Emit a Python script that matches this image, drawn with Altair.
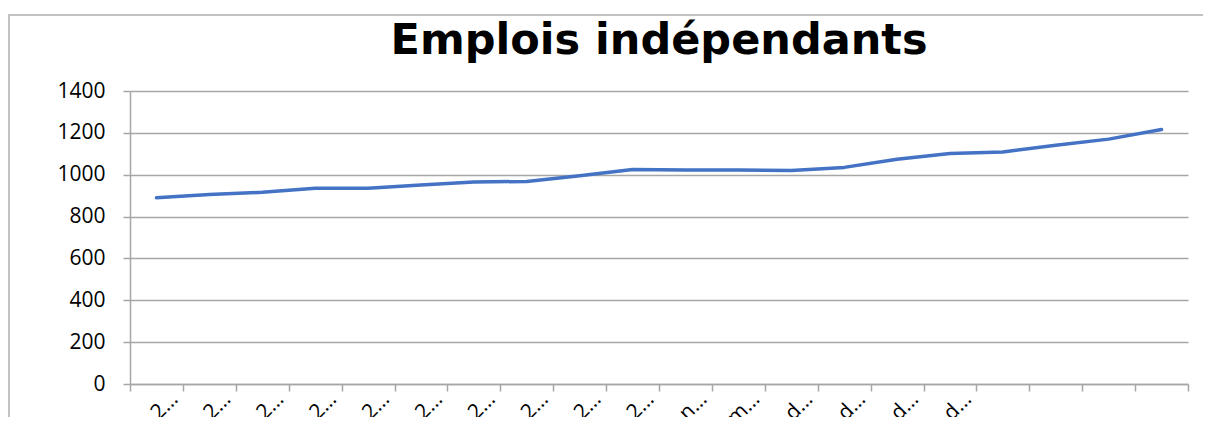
import json
import altair as alt
import pandas as pd

# Data
periods = list(range(1, 21))
tick_labels = ["2…", "2…", "2…", "2…", "2…", "2…", "2…", "2…", "2…", "2…",
               "n…", "m…", "d…", "d…", "d…", "d…", "", "", "", ""]
values = [890, 905, 916, 935, 935, 951, 965, 968, 995, 1025,
          1023, 1022, 1020, 1035, 1074, 1101, 1109, 1141, 1170, 1216]
y_ticks = [0, 200, 400, 600, 800, 1000, 1200, 1400]

df = pd.DataFrame({"period": periods, "value": values})

label_expr = json.dumps(tick_labels, ensure_ascii=False) + "[datum.value - 1]"

grey = "#a6a6a6"
font = "Open Sans"

line = (
    alt.Chart(df)
    .mark_line(color="#4472C4", strokeWidth=3.5, strokeCap="round", strokeJoin="round")
    .encode(
        x=alt.X(
            "period:O",
            scale=alt.Scale(type="band", paddingInner=0, paddingOuter=0),
            axis=alt.Axis(
                title=None,
                labelExpr=label_expr,
                labelAngle=-45,
                labelFont=font,
                labelFontSize=21,
                labelColor="#000000",
                labelPadding=-3,
                labelOffset=10,
                tickBand="extent",
                tickSize=7,
                tickColor=grey,
                tickWidth=1.5,
                domainColor=grey,
                domainWidth=1.5,
                grid=False,
            ),
        ),
        y=alt.Y(
            "value:Q",
            scale=alt.Scale(domain=[0, 1400], nice=False),
            axis=alt.Axis(
                title=None,
                values=y_ticks,
                format="d",
                labelFont=font,
                labelFontSize=21,
                labelColor="#000000",
                labelPadding=18,
                tickSize=7,
                tickColor=grey,
                tickWidth=1.5,
                domainColor=grey,
                domainWidth=1.5,
                gridColor=grey,
                gridWidth=1.5,
            ),
        ),
    )
)

# decorative chart-area frame (Excel style), not data
frame = (
    alt.Chart(pd.DataFrame({"f": [0]}))
    .mark_rect(filled=False, stroke="#b0b0b0", strokeWidth=1.5)
    .encode(
        x=alt.value(-121),
        x2=alt.value(1120),
        y=alt.value(-76),
        y2=alt.value(400),
    )
)

chart = (
    alt.layer(frame, line)
    .properties(
        width=1058,
        height=293,
        title=alt.TitleParams(
            "Emplois indépendants",
            font="DejaVu Sans",
            fontSize=43,
            fontWeight="bold",
            color="#000000",
            anchor="middle",
            baseline="alphabetic",
            offset=0,
            dy=83,
        ),
        autosize=alt.AutoSizeParams(type="none"),
        padding={"left": 122, "top": 83, "right": 15, "bottom": 33},
    )
    .configure_view(stroke=None)
)

chart.save("out.html", embed_options={"renderer": "svg", "actions": False})
